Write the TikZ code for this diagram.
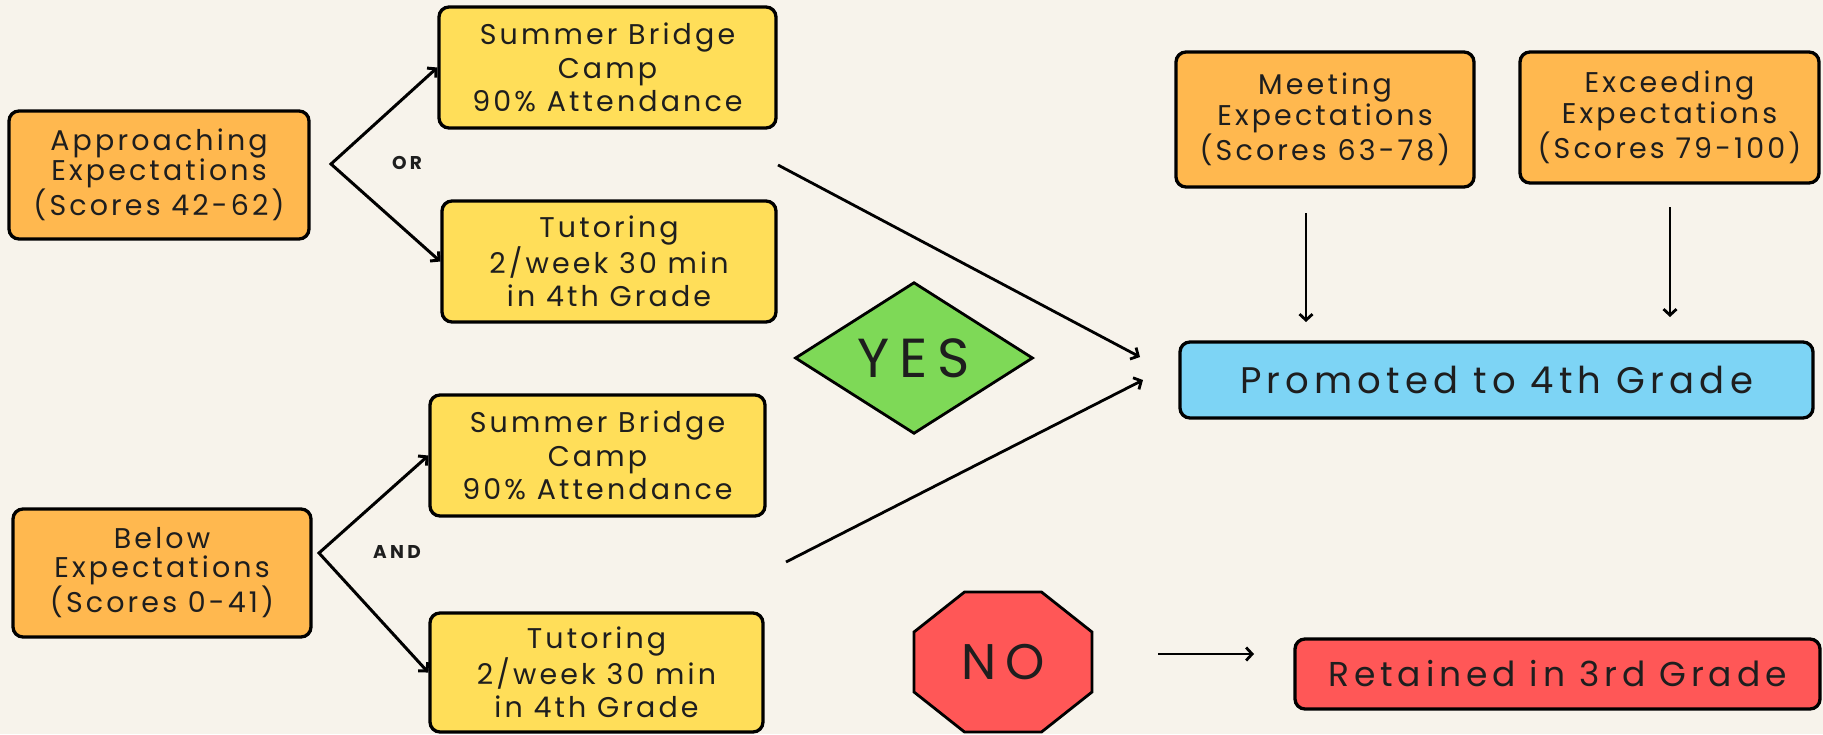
\documentclass[tikz,border=0pt]{standalone}
\usepackage{fontspec}
\setmainfont{Poppins}[LetterSpace=11]
\newfontfamily\widefont{Poppins}[LetterSpace=14]
\newfontfamily\bigfont{Poppins}[LetterSpace=18]
\newfontfamily\lblfont{Poppins}[LetterSpace=18]
\usetikzlibrary{arrows.meta,shapes.geometric}
\definecolor{bg}{HTML}{F7F3EB}
\definecolor{obox}{HTML}{FFB84F}
\definecolor{ybox}{HTML}{FFDE59}
\definecolor{bbox}{HTML}{7DD4F5}
\definecolor{gbox}{HTML}{7ED957}
\definecolor{rbox}{HTML}{FF5757}
\definecolor{txt}{HTML}{1E1E1E}
\begin{document}
\begin{tikzpicture}[x=1pt,y=-1pt,
  box/.style={draw=black, line width=3.3pt, rounded corners=10pt, align=center, inner sep=0pt, text=txt},
  orangebox/.style={box, fill=obox, font=\fontsize{28.5}{29}\selectfont},
  yellowbox/.style={box, fill=ybox, font=\fontsize{28.5}{33.5}\selectfont},
  conn/.style={line width=3pt, line join=miter, -{Straight Barb[length=6pt,width=13pt]}},
  thinconn/.style={line width=2.8pt, -{Straight Barb[length=6pt,width=13pt]}},
  lbl/.style={font=\lblfont\fontsize{18.5}{18.5}\selectfont\bfseries, text=txt},
]
\fill[bg] (0,0) rectangle (1823,734);
\useasboundingbox (0,0) rectangle (1823,734);

% left column
\node[orangebox, minimum width=300pt, minimum height=128pt] (appr) at (159,175) {Approaching\\Expectations\\(Scores 42-62)};
\node[orangebox, minimum width=298pt, minimum height=128pt] (below) at (162,573) {Below\\Expectations\\(Scores 0-41)};

% interventions
\node[yellowbox, minimum width=337pt, minimum height=121pt] (sb1) at (607.5,67.5) {Summer Bridge\\Camp\\90\% Attendance};
\node[yellowbox, minimum width=334pt, minimum height=121pt] (tt1) at (609,261.5) {Tutoring\\2/week 30 min\\in 4th Grade};
\node[yellowbox, minimum width=335pt, minimum height=121pt] (sb2) at (597.5,455.5) {Summer Bridge\\Camp\\90\% Attendance};
\node[yellowbox, minimum width=333pt, minimum height=119pt] (tt2) at (596.5,672.5) {Tutoring\\2/week 30 min\\in 4th Grade};

% chevrons
\coordinate (v1) at (331,164);
\coordinate (v2) at (319,553);
\draw[conn, {Straight Barb[length=6pt,width=13pt]}-{Straight Barb[length=6pt,width=13pt]}] (sb1.west) -- (v1) -- (tt1.west);
\draw[conn, {Straight Barb[length=6pt,width=13pt]}-{Straight Barb[length=6pt,width=13pt]}] (sb2.west) -- (v2) -- (tt2.west);
\node[lbl] (orl) at (407,163) {OR};
\node[lbl] (andl) at (397,552) {AND};

% yes / no
\node[diamond, draw=black, fill=gbox, line width=2.8pt, minimum width=238pt, minimum height=150pt, inner sep=0pt, text=txt, font=\bigfont\fontsize{55}{55}\selectfont] (yes) at (914,358) {YES};
\coordinate (noc) at (1003,662);
\begin{scope}[shift={(noc)}]
\filldraw[fill=rbox, draw=black, line width=2.8pt, line join=miter] (-38.5,-70) -- (38.5,-70) -- (89,-30) -- (89,30) -- (38.5,70) -- (-38.5,70) -- (-89,30) -- (-89,-30) -- cycle;
\end{scope}
\node[text=txt, font=\bigfont\fontsize{50}{50}\selectfont] (no) at (noc) {NO};

% right side
\node[orangebox, minimum width=298pt, minimum height=135pt] (meet) at (1325,119.5) {Meeting\\Expectations\\(Scores 63-78)};
\node[orangebox, minimum width=299pt, minimum height=131pt] (exc) at (1669.5,117.5) {Exceeding\\Expectations\\(Scores 79-100)};
\node[box, fill=bbox, minimum width=633pt, minimum height=76pt, font=\widefont\fontsize{37}{37}\selectfont] (prom) at (1496.5,380) {Promoted to 4th Grade};
\node[box, fill=rbox, minimum width=525pt, minimum height=70pt, font=\widefont\fontsize{34.5}{34.5}\selectfont] (ret) at (1557.5,674) {Retained in 3rd Grade};

% connectors
\coordinate (a1s) at (778,165);
\coordinate (a1e) at (1140,357);
\coordinate (a2s) at (786,562);
\coordinate (a2e) at (1143,380);
\draw[thinconn] (a1s) -- (a1e);
\draw[thinconn] (a2s) -- (a2e);
\coordinate (m1) at (1306,213);
\coordinate (m2) at (1306,322);
\coordinate (e1) at (1670,207);
\coordinate (e2) at (1670,317);
\draw[thinconn] (m1) -- (m2);
\draw[thinconn] (e1) -- (e2);
\coordinate (n1) at (1158,654);
\coordinate (n2) at (1254,654);
\draw[thinconn] (n1) -- (n2);
\end{tikzpicture}
\end{document}
